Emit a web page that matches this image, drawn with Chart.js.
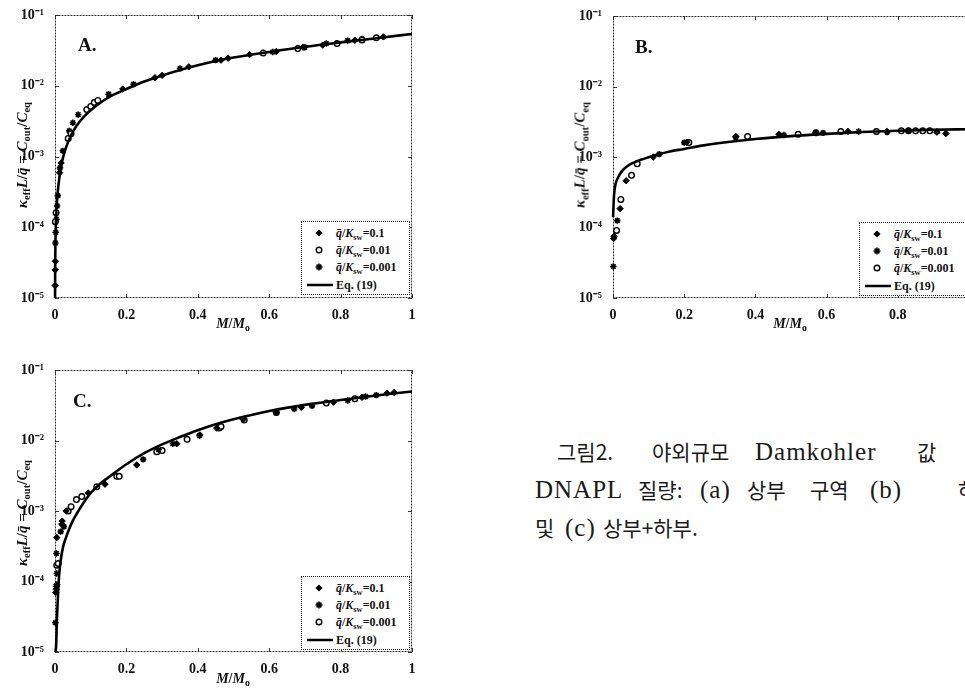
<!DOCTYPE html>
<html>
<head>
<meta charset="utf-8">
<script src="https://cdn.jsdelivr.net/npm/chart.js@4.4.0/dist/chart.umd.min.js"></script>
<style>
  html, body { margin: 0; padding: 0; background: #fff; }
  body { position: relative; width: 965px; height: 688px; overflow: hidden; }
  canvas { position: absolute; }
  .t { position: absolute; font-family: "Liberation Serif", "Times New Roman", serif; font-weight: bold; color: #111; white-space: nowrap; }
  .t sub { font-size: 70%; vertical-align: -0.35em; line-height: 0; }
  .ytitle { font-size: 15px; transform: translate(-50%, -50%) rotate(-90deg); }
  .xtitle { font-size: 14px; transform: translate(-50%, -50%); }
  .panel { font-size: 19px; }
  .legend { position: absolute; border: 1px dotted #222; background: #fff; width: 107px; height: 72px; }
  .legend .row { position: absolute; left: 0; height: 16px; font-family: "Liberation Serif", serif; font-weight: bold; font-size: 12px; color: #111; white-space: nowrap; }
  .legend svg { position: absolute; }
  .legend .txt { position: absolute; left: 34px; top: 0; line-height: 16px; }
  .legend sub { font-size: 70%; vertical-align: -0.4em; line-height: 0; }
  .cap { position: absolute; color: #1a1a1a; white-space: nowrap; line-height: 24px; }
  .ko { font-family: "Noto Sans CJK KR", sans-serif; font-size: 21px; }
  .la { font-family: "Liberation Serif", serif; font-size: 25px; letter-spacing: 1px; }
</style>
</head>
<body>
<canvas id="chartA" width="425" height="325" style="left:0px;top:0px"></canvas>
<canvas id="chartB" width="440" height="325" style="left:540px;top:0px"></canvas>
<canvas id="chartC" width="425" height="330" style="left:0px;top:355px"></canvas>

<script>
// axis ticks
const xTicks = [0, 0.2, 0.4, 0.6, 0.8, 1];
const xTickLabels = ['0', '0.2', '0.4', '0.6', '0.8', '1'];
const yTicks = [1e-5, 1e-4, 1e-3, 1e-2, 1e-1];
const yTickLabels = ['10\u207B\u2075', '10\u207B\u2074', '10\u207B\u00B3', '10\u207B\u00B2', '10\u207B\u00B9'];
const legendValues = ['0.1', '0.01', '0.001'];
const curveLabel = 'Eq. (19)';

// ---- panel A (top zone) ----
const aCurveX = [0.0002, 0.0005, 0.001, 0.002, 0.004, 0.007, 0.01, 0.015, 0.02, 0.03, 0.045, 0.06, 0.08, 0.1, 0.13, 0.16, 0.2, 0.25, 0.3, 0.4, 0.5, 0.6, 0.7, 0.8, 0.9, 1.0];
const aCurveY = [1.0e-5, 2.5e-5, 5e-5, 9e-5, 1.7e-4, 2.9e-4, 4.1e-4, 6.3e-4, 8.6e-4, 1.3e-3, 2.0e-3, 2.7e-3, 3.6e-3, 4.5e-3, 5.9e-3, 7.3e-3, 9.0e-3, 1.15e-2, 1.4e-2, 1.95e-2, 2.5e-2, 3.0e-2, 3.55e-2, 4.1e-2, 4.7e-2, 5.4e-2];
const aQ1X = [0.0005, 0.0005, 0.001, 0.013, 0.017, 0.19, 0.28, 0.30, 0.375, 0.465, 0.485, 0.545, 0.62, 0.695, 0.75, 0.84, 0.92];
const aQ1Y = [1.5e-5, 2.5e-5, 3.3e-5, 5.9e-4, 8.1e-4, 9.0e-3, 1.3e-2, 1.4e-2, 1.85e-2, 2.3e-2, 2.45e-2, 2.75e-2, 3.05e-2, 3.5e-2, 3.75e-2, 4.4e-2, 4.9e-2];
const aQ2X = [0.001, 0.003, 0.037, 0.045, 0.089, 0.10, 0.11, 0.12, 0.583, 0.68, 0.79, 0.86, 0.90];
const aQ2Y = [1.2e-4, 1.6e-4, 1.8e-3, 2.1e-3, 4.6e-3, 5.1e-3, 5.8e-3, 6.2e-3, 2.9e-2, 3.35e-2, 3.95e-2, 4.45e-2, 4.75e-2];
const aQ3X = [0.001, 0.002, 0.004, 0.006, 0.008, 0.014, 0.022, 0.04, 0.05, 0.065, 0.15, 0.22, 0.35, 0.45, 0.61, 0.70, 0.76, 0.82, 0.86];
const aQ3Y = [6e-5, 8.5e-5, 1.3e-4, 2.0e-4, 2.8e-4, 6.9e-4, 1.2e-3, 2.3e-3, 3.0e-3, 3.9e-3, 7.6e-3, 1.05e-2, 1.75e-2, 2.3e-2, 3.0e-2, 3.5e-2, 3.95e-2, 4.35e-2, 4.6e-2];

// ---- panel B (bottom zone) ----
const bCurveX = [0.0003, 0.001, 0.002, 0.004, 0.007, 0.01, 0.015, 0.02, 0.03, 0.045, 0.06, 0.08, 0.1, 0.13, 0.16, 0.2, 0.25, 0.3, 0.4, 0.5, 0.6, 0.7, 0.8, 0.9, 1.0];
const bCurveY = [1.4e-4, 1.8e-4, 2.4e-4, 3.3e-4, 4.1e-4, 4.6e-4, 5.2e-4, 5.8e-4, 6.7e-4, 7.7e-4, 8.4e-4, 9.2e-4, 9.9e-4, 1.1e-3, 1.2e-3, 1.3e-3, 1.45e-3, 1.58e-3, 1.8e-3, 1.98e-3, 2.13e-3, 2.26e-3, 2.36e-3, 2.43e-3, 2.48e-3];
const bQ1X = [0.002, 0.003, 0.02, 0.037, 0.113, 0.207, 0.345, 0.466, 0.57, 0.66, 0.77, 0.83, 0.91, 0.935];
const bQ1Y = [7.0e-5, 7.5e-5, 1.85e-4, 4.6e-4, 1.0e-3, 1.62e-3, 1.95e-3, 2.1e-3, 2.2e-3, 2.3e-3, 2.3e-3, 2.35e-3, 2.25e-3, 2.15e-3];
const bQ2X = [0.001, 0.012, 0.13, 0.2, 0.345, 0.48, 0.59, 0.69, 0.77, 0.91];
const bQ2Y = [2.8e-5, 1.25e-4, 1.1e-3, 1.6e-3, 1.9e-3, 2.05e-3, 2.2e-3, 2.3e-3, 2.25e-3, 2.3e-3];
const bQ3X = [0.01, 0.022, 0.052, 0.068, 0.213, 0.378, 0.52, 0.57, 0.64, 0.74, 0.81, 0.83, 0.85, 0.87, 0.89];
const bQ3Y = [9.1e-5, 2.5e-4, 5.5e-4, 8.0e-4, 1.6e-3, 1.95e-3, 2.1e-3, 2.2e-3, 2.3e-3, 2.3e-3, 2.35e-3, 2.35e-3, 2.35e-3, 2.35e-3, 2.35e-3];

// ---- panel C (top + bottom) ----
const cCurveX = [0.001, 0.003, 0.006, 0.009, 0.012, 0.016, 0.022, 0.03, 0.04, 0.05, 0.06, 0.075, 0.1, 0.125, 0.15, 0.2, 0.25, 0.3, 0.35, 0.4, 0.45, 0.5, 0.6, 0.7, 0.8, 0.9, 1.0];
const cCurveY = [1.0e-5, 1.2e-5, 3.5e-5, 7.5e-5, 1.3e-4, 2.0e-4, 3.0e-4, 4.1e-4, 5.6e-4, 7.3e-4, 9.0e-4, 1.2e-3, 1.8e-3, 2.4e-3, 3.0e-3, 4.6e-3, 6.6e-3, 8.8e-3, 1.12e-2, 1.4e-2, 1.7e-2, 2.0e-2, 2.62e-2, 3.2e-2, 3.75e-2, 4.35e-2, 4.95e-2];
const cQ1X = [0.002, 0.003, 0.004, 0.005, 0.005, 0.019, 0.02, 0.031, 0.093, 0.14, 0.229, 0.341, 0.406, 0.453, 0.527, 0.62, 0.69, 0.78, 0.86, 0.93, 0.95];
const cQ1Y = [7.0e-5, 7.8e-5, 8.5e-5, 9.0e-5, 4.2e-4, 6.5e-4, 7.2e-4, 1.0e-3, 1.8e-3, 2.4e-3, 4.5e-3, 9.0e-3, 1.2e-2, 1.5e-2, 2.0e-2, 2.5e-2, 2.95e-2, 3.5e-2, 4.1e-2, 4.7e-2, 4.8e-2];
const cQ2X = [0.001, 0.004, 0.005, 0.016, 0.025, 0.247, 0.29, 0.33, 0.405, 0.67, 0.72, 0.82, 0.87, 0.9];
const cQ2Y = [2.6e-5, 2.5e-4, 1.3e-4, 5.1e-4, 6.0e-4, 5.4e-3, 7.4e-3, 9.0e-3, 1.17e-2, 2.8e-2, 3.1e-2, 3.7e-2, 4.2e-2, 4.4e-2];
const cQ3X = [0.005, 0.009, 0.037, 0.045, 0.06, 0.075, 0.117, 0.173, 0.18, 0.285, 0.30, 0.37, 0.46, 0.465, 0.53, 0.62, 0.76, 0.84];
const cQ3Y = [1.7e-4, 1.8e-4, 1.0e-3, 1.15e-3, 1.45e-3, 1.6e-3, 2.2e-3, 3.1e-3, 3.1e-3, 6.9e-3, 7.2e-3, 1.04e-2, 1.5e-2, 1.58e-2, 1.95e-2, 2.5e-2, 3.4e-2, 3.9e-2];

function pts(xs, ys) {
  return xs.map((x, i) => ({ x: x, y: ys[i] }));
}

// marker looks
const styles = {
  diamond: { pointStyle: 'rectRot', pointRadius: 3.2, backgroundColor: '#000', borderColor: '#000', borderWidth: 1 },
  circle: { pointStyle: 'circle', pointRadius: 2.8, backgroundColor: '#fff', borderColor: '#000', borderWidth: 1.4 },
  star: { pointStyle: 'star', pointRadius: 3.2, backgroundColor: '#000', borderColor: '#000', borderWidth: 1.6 }
};

// box round the plot + inward ticks, drawn off the chart's own scales
const framePlugin = {
  id: 'frame',
  beforeDatasetsDraw(chart) {
    const ctx = chart.ctx, a = chart.chartArea;
    const sx = chart.scales.x, sy = chart.scales.y;
    ctx.save();
    ctx.strokeStyle = '#333';
    ctx.lineWidth = 1;
    ctx.setLineDash([2, 1]);
    ctx.strokeRect(a.left + 0.5, a.top + 0.5, a.right - a.left - 1, a.bottom - a.top - 1);
    ctx.setLineDash([]);
    ctx.beginPath();
    xTicks.forEach(v => {
      const px = Math.round(sx.getPixelForValue(v)) + 0.5;
      ctx.moveTo(px, a.bottom); ctx.lineTo(px, a.bottom - 4);
      ctx.moveTo(px, a.top); ctx.lineTo(px, a.top + 4);
    });
    yTicks.forEach(v => {
      const py = Math.round(sy.getPixelForValue(v)) + 0.5;
      ctx.moveTo(a.left, py); ctx.lineTo(a.left + 4, py);
      ctx.moveTo(a.right, py); ctx.lineTo(a.right - 4, py);
    });
    ctx.stroke();
    ctx.restore();
  }
};

const tickFont = { family: 'Liberation Serif', size: 14, weight: 'bold' };

function makePanel(id, box, curve, series) {
  const datasets = [{
    data: curve, showLine: true, borderColor: '#000', borderWidth: 2.6,
    pointRadius: 0, fill: false, cubicInterpolationMode: 'monotone', clip: false
  }];
  series.forEach(s => {
    datasets.push(Object.assign({ data: s.data, showLine: false, clip: false }, styles[s.kind]));
  });
  return new Chart(document.getElementById(id), {
    type: 'scatter',
    data: { datasets: datasets },
    options: {
      responsive: false,
      animation: false,
      events: [],
      layout: { padding: { top: box.padTop, right: box.padRight, left: 0, bottom: 0 } },
      plugins: { legend: { display: false }, tooltip: { enabled: false } },
      scales: {
        x: {
          type: 'linear', min: 0, max: 1,
          grid: { display: false }, border: { display: false },
          afterBuildTicks: s => { s.ticks = xTicks.map(v => ({ value: v })); },
          afterFit: s => { s.height = box.xH; },
          ticks: { padding: 1, color: '#111', font: tickFont, maxRotation: 0, autoSkip: false,
                   callback: (v, i) => xTickLabels[i] }
        },
        y: {
          type: 'logarithmic', min: 1e-5, max: 1e-1,
          grid: { display: false }, border: { display: false },
          afterBuildTicks: s => { s.ticks = yTicks.map(v => ({ value: v })); },
          afterFit: s => { s.width = box.yW; },
          ticks: { padding: 3, color: '#111', font: tickFont, autoSkip: false,
                   callback: (v, i) => yTickLabels[i] }
        }
      }
    },
    plugins: [framePlugin]
  });
}

makePanel('chartA', { padTop: 15, padRight: 13, xH: 27, yW: 55 }, pts(aCurveX, aCurveY), [
  { kind: 'diamond', data: pts(aQ1X, aQ1Y) },
  { kind: 'circle', data: pts(aQ2X, aQ2Y) },
  { kind: 'star', data: pts(aQ3X, aQ3Y) }
]);
makePanel('chartB', { padTop: 16, padRight: 11, xH: 27, yW: 73 }, pts(bCurveX, bCurveY), [
  { kind: 'diamond', data: pts(bQ1X, bQ1Y) },
  { kind: 'star', data: pts(bQ2X, bQ2Y) },
  { kind: 'circle', data: pts(bQ3X, bQ3Y) }
]);
makePanel('chartC', { padTop: 15, padRight: 13, xH: 33, yW: 55 }, pts(cCurveX, cCurveY), [
  { kind: 'diamond', data: pts(cQ1X, cQ1Y) },
  { kind: 'star', data: pts(cQ2X, cQ2Y) },
  { kind: 'circle', data: pts(cQ3X, cQ3Y) }
]);

// ---- texts round the plots ----
const yTitleHtml = '<i>\u03BA</i><sub>eff</sub><i>L</i>/<i>q\u0304</i> = <i>C</i><sub>out</sub>/<i>C</i><sub>eq</sub>';
const xTitleHtml = '<i>M</i>/<i>M</i><sub>o</sub>';

function addText(cls, html, left, top) {
  const d = document.createElement('div');
  d.className = 't ' + cls;
  d.innerHTML = html;
  d.style.left = left + 'px';
  d.style.top = top + 'px';
  document.body.appendChild(d);
}

addText('ytitle', yTitleHtml, 22, 155);
addText('ytitle', yTitleHtml, 580, 155);
addText('ytitle', yTitleHtml, 22, 513);
addText('xtitle', xTitleHtml, 233, 324);
addText('xtitle', xTitleHtml, 790, 324);
addText('xtitle', xTitleHtml, 233, 679);
addText('panel', 'A.', 78, 34);
addText('panel', 'B.', 635, 36);
addText('panel', 'C.', 73, 390);

const markerSvg = {
  diamond: '<polygon points="5,1.4 8.6,5 5,8.6 1.4,5" fill="#000"/>',
  circle: '<circle cx="5" cy="5" r="2.8" fill="#fff" stroke="#000" stroke-width="1.4"/>',
  star: '<path d="M5 1.5V8.5M1.5 5H8.5M2.6 2.6L7.4 7.4M7.4 2.6L2.6 7.4" stroke="#000" stroke-width="1.6"/>'
};

function addLegend(left, top, kinds) {
  const box = document.createElement('div');
  box.className = 'legend';
  box.style.left = left + 'px';
  box.style.top = top + 'px';
  const rowTops = [3, 20, 37, 55];
  kinds.forEach((k, i) => {
    const r = document.createElement('div');
    r.className = 'row';
    r.style.top = rowTops[i] + 'px';
    r.innerHTML = '<svg width="10" height="10" style="left:12px;top:3px">' + markerSvg[k] + '</svg>' +
      '<span class="txt"><i>q\u0304</i>/<i>K</i><sub>sw</sub>=' + legendValues[i] + '</span>';
    box.appendChild(r);
  });
  const r = document.createElement('div');
  r.className = 'row';
  r.style.top = rowTops[3] + 'px';
  r.innerHTML = '<svg width="26" height="6" style="left:5px;top:5px"><line x1="0" y1="3" x2="26" y2="3" stroke="#000" stroke-width="2.5"/></svg>' +
    '<span class="txt">' + curveLabel + '</span>';
  box.appendChild(r);
  document.body.appendChild(box);
}

addLegend(301, 221, ['diamond', 'circle', 'star']);
addLegend(859, 222, ['diamond', 'star', 'circle']);
addLegend(301, 576, ['diamond', 'star', 'circle']);

// ---- caption (words placed as in the scan: text, left, baseline, latin?) ----
const captionWords = [
  ['그림2.', 557, 460, 0], ['야외규모', 652, 460, 0], ['Damkohler', 755, 460, 1], ['값', 917, 460, 0],
  ['DNAPL', 535, 498, 1], ['질량:', 638, 498, 0], ['(a)', 700, 498, 1], ['상부', 747, 498, 0], ['구역', 810, 498, 0], ['(b)', 870, 498, 1], ['하부', 958, 498, 0],
  ['및', 535, 536, 0], ['(c)', 565, 536, 1], ['상부+하부.', 603, 536, 0]
];
captionWords.forEach(w => {
  const s = document.createElement('div');
  s.className = 'cap ' + (w[3] ? 'la' : 'ko');
  s.textContent = w[0];
  s.style.left = w[1] + 'px';
  // baseline = top + 12 + k*size  (Liberation Serif k~0.34, Noto CJK k~0.44)
  const off = w[3] ? 12 + 0.34 * 25 : 12 + 0.44 * 21;
  s.style.top = Math.round(w[2] - off) + 'px';
  document.body.appendChild(s);
});
</script>
</body>
</html>
